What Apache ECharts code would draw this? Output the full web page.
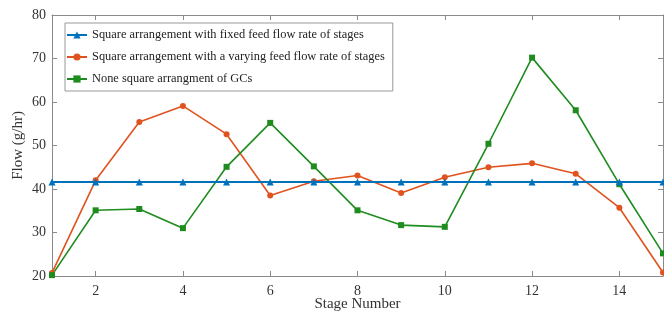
<!DOCTYPE html>
<html>
<head>
<meta charset="utf-8">
<script src="https://cdn.jsdelivr.net/npm/echarts@6/dist/echarts.min.js"></script>
<style>
  html, body { margin: 0; padding: 0; background: #fff; }
  #main { width: 664px; height: 314px; }
</style>
</head>
<body>
<div id="main"></div>
<script>
// 数据
var stages = ['1', '2', '3', '4', '5', '6', '7', '8', '9', '10', '11', '12', '13', '14', '15'];
var fixedFeed = [41.6, 41.6, 41.6, 41.6, 41.6, 41.6, 41.6, 41.6, 41.6, 41.6, 41.6, 41.6, 41.6, 41.6, 41.6];
var varyingFeed = [20.7, 42.0, 55.4, 59.1, 52.6, 38.5, 41.8, 43.1, 39.1, 42.7, 45.0, 45.9, 43.5, 35.7, 20.8];
var noneSquare = [20.2, 35.1, 35.4, 31.0, 45.1, 55.2, 45.2, 35.1, 31.7, 31.3, 50.4, 70.2, 58.1, 41.1, 25.2];
var seriesNames = [
    'Square arrangement with fixed feed flow rate of stages',
    'Square arrangement with a varying feed flow rate of stages',
    'None square arrangment of GCs'
];

var myChart = echarts.init(document.getElementById('main'));

var font = 'Liberation Serif';
var axisColor = '#8a8a8a';
var evenOnly = function (i, v) { return Number(v) % 2 === 0; };

option = {
    animation: false,
    color: ['#0072BD', '#E0531F', '#1E8C1E'],
    textStyle: { fontFamily: font },
    legend: {
        left: 65,
        top: 23,
        orient: 'vertical',
        itemGap: 10,
        itemWidth: 20,
        itemHeight: 9,
        padding: [6, 8, 6, 1],
        borderColor: '#999',
        borderWidth: 1,
        backgroundColor: '#fff',
        textStyle: { fontFamily: font, fontSize: 12.4, color: '#222' },
        data: seriesNames
    },
    grid: {
        left: 52,
        right: 1,
        top: 15,
        bottom: 38,
        outerBoundsMode: 'none'
    },
    xAxis: [
        {
            type: 'category',
            data: stages,
            boundaryGap: false,
            name: 'Stage Number',
            nameLocation: 'middle',
            nameGap: 21,
            nameMoveOverlap: false,
            nameTextStyle: { fontFamily: font, fontSize: 15, color: '#333' },
            axisLine: { lineStyle: { color: axisColor } },
            axisTick: { inside: true, length: 5, interval: evenOnly, lineStyle: { color: axisColor } },
            axisLabel: { interval: evenOnly, fontFamily: font, fontSize: 14, color: '#333', margin: 8 },
            splitLine: { show: false }
        },
        {
            type: 'category',
            data: stages,
            boundaryGap: false,
            position: 'top',
            axisLine: { lineStyle: { color: axisColor } },
            axisTick: { inside: true, length: 5, interval: evenOnly, lineStyle: { color: axisColor } },
            axisLabel: { show: false },
            splitLine: { show: false }
        }
    ],
    yAxis: [
        {
            type: 'value',
            min: 20,
            max: 80,
            interval: 10,
            name: 'Flow (g/hr)',
            nameLocation: 'middle',
            nameGap: 26,
            nameMoveOverlap: false,
            nameTextStyle: { fontFamily: font, fontSize: 15, color: '#333' },
            axisLine: { show: true, lineStyle: { color: axisColor } },
            axisTick: { show: true, inside: true, length: 5, lineStyle: { color: axisColor } },
            axisLabel: { fontFamily: font, fontSize: 14, color: '#333', margin: 6 },
            splitLine: { show: false }
        },
        {
            type: 'value',
            min: 20,
            max: 80,
            interval: 10,
            position: 'right',
            axisLine: { show: true, lineStyle: { color: axisColor } },
            axisTick: { show: true, inside: true, length: 5, lineStyle: { color: axisColor } },
            axisLabel: { show: false },
            splitLine: { show: false }
        }
    ],
    series: [
        {
            name: seriesNames[0],
            type: 'line',
            data: fixedFeed,
            symbol: 'triangle',
            symbolSize: 7,
            lineStyle: { width: 2 },
            z: 3
        },
        {
            name: seriesNames[1],
            type: 'line',
            data: varyingFeed,
            symbol: 'circle',
            symbolSize: 6,
            lineStyle: { width: 1.6 },
            z: 2
        },
        {
            name: seriesNames[2],
            type: 'line',
            data: noneSquare,
            symbol: 'rect',
            symbolSize: 6,
            lineStyle: { width: 1.6 },
            z: 2
        }
    ]
};

myChart.setOption(option);
</script>
</body>
</html>
